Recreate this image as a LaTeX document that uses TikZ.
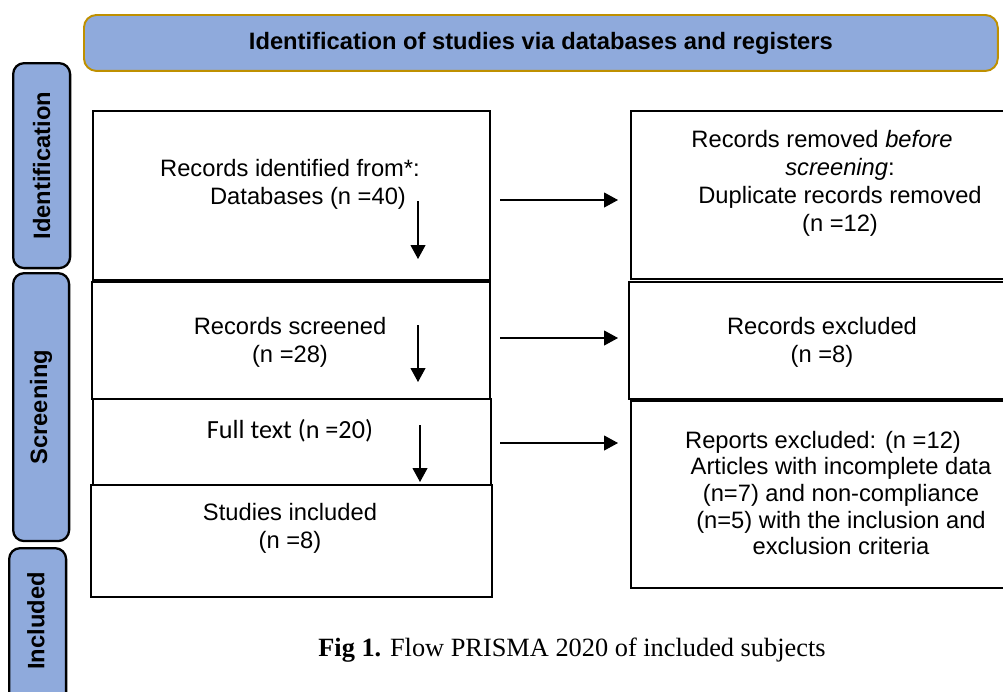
\documentclass[tikz,border=0pt]{standalone}
\usepackage{fontspec}
\setmainfont{Liberation Sans}
\newfontfamily\capfont{Liberation Serif}
\newfontfamily\calfont{Carlito}
\usetikzlibrary{arrows.meta,positioning}
\definecolor{hdblue}{RGB}{143,170,220}
\definecolor{hdgold}{RGB}{191,144,0}
\tikzstyle{box} = [draw, line width=1.3pt, anchor=north west, inner sep=0pt]
\tikzstyle{tab} = [draw, line width=1.3pt, fill=hdblue, rounded corners=0.22cm, anchor=north west, inner sep=0pt]
\tikzstyle{tabtxt} = [rotate=90, font=\fontsize{13.5}{16}\selectfont\bfseries]
\tikzstyle{txt} = [align=center, font=\fontsize{13.5}{15.9}\selectfont]
\tikzstyle{arrow} = [line width=0.6pt, -{Triangle[length=0.28cm,width=0.3cm]}]

\begin{document}
\begin{tikzpicture}[x=0.02cm, y=-0.02cm]
\useasboundingbox (0,0) rectangle (1003,691);

% header and side tabs
\node[tab, draw=hdgold, line width=1.1pt, rounded corners=0.25cm, minimum width=18.28cm, minimum height=1.12cm,
  font=\fontsize{13.5}{16}\selectfont\bfseries] (head) at (83,14) {Identification of studies via databases and registers};
\node[tab, minimum width=1.14cm, minimum height=4.1cm] (tabid) at (12,62) {};
\node[tab, minimum width=1.12cm, minimum height=5.36cm] (tabscr) at (12,272) {};
\node[tab, minimum width=1.14cm, minimum height=3.2cm] (tabinc) at (8,547) {};
\node[tabtxt] (tidtxt) at (tabid.center) {Identification};
\node[tabtxt] (tscrtxt) at (tabscr.center) {Screening};
\node[tabtxt] (tinctxt) at (36,621) {Included};

% left column
\node[box, minimum width=7.94cm, minimum height=3.38cm] (ident) at (92,110) {};
\node[box, minimum width=7.96cm, minimum height=2.34cm] (screen) at (91,281) {};
\node[box, minimum width=7.96cm, minimum height=1.72cm] (full) at (92,398) {};
\node[box, minimum width=8.02cm, minimum height=2.24cm] (incl) at (90,484) {};

\node[txt] (identtxt) at (290,184) {Records identified from*:\\\hspace*{0.72cm}Databases (n =40)};
\node[txt] (screentxt) at (290,342) {Records screened\\(n =28)};
\node[txt, font=\calfont\fontsize{14.9}{17}\selectfont] (fulltxt) at (290,431) {Full text (n =20)};
\node[txt] (incltxt) at (290,528) {Studies included\\(n =8)};

% right column
\node[box, minimum width=7.6cm, minimum height=3.36cm] (removed) at (630,110) {};
\node[box, minimum width=7.64cm, minimum height=2.34cm] (excl) at (628,281) {};
\node[box, minimum width=7.6cm, minimum height=3.74cm] (reports) at (630,400) {};

\node[txt] (removedtxt) at (840,183) {Records removed \textit{before}\hspace*{0.72cm}\\\textit{screening}:\hspace*{0.72cm}\\Duplicate records removed\\(n =12)};
\node[txt] (excltxt) at (822,342) {Records excluded\\(n =8)};
\node[txt, font=\fontsize{13.5}{15.1}\selectfont] (reportstxt) at (841,493) {Reports excluded: (n =12)\hspace*{0.72cm}\\Articles with incomplete data\\(n=7) and non-compliance\\(n=5) with the inclusion and\\exclusion criteria};

% arrows
\coordinate (d1s) at (418,201);
\coordinate (d1e) at (418,259);
\coordinate (d2s) at (418,325);
\coordinate (d2e) at (418,382);
\coordinate (d3s) at (420,425);
\coordinate (d3e) at (420,482);
\draw[arrow] (d1s) -- (d1e);
\draw[arrow] (d2s) -- (d2e);
\draw[arrow] (d3s) -- (d3e);

\coordinate (h1s) at (500,200);
\coordinate (h1e) at (618,200);
\coordinate (h2s) at (500,338);
\coordinate (h2e) at (618,338);
\coordinate (h3s) at (500,443);
\coordinate (h3e) at (618,443);
\draw[arrow] (h1s) -- (h1e);
\draw[arrow] (h2s) -- (h2e);
\draw[arrow] (h3s) -- (h3e);

% caption
\node[font=\capfont\fontsize{15}{18}\selectfont] (caption) at (572,650) {\textbf{Fig 1.} Flow PRISMA 2020 of included subjects};
\end{tikzpicture}
\end{document}
